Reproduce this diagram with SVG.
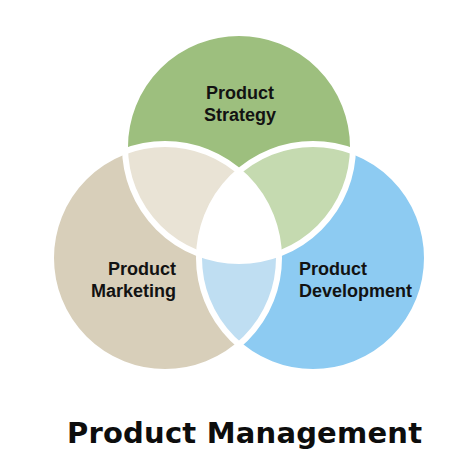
<svg xmlns="http://www.w3.org/2000/svg" width="474" height="474" viewBox="0 0 474 474">
<style>
.lbl{font-family:"Liberation Sans",Arial,sans-serif;font-weight:bold;font-size:18px;fill:#121212}
.title{font-family:"DejaVu Sans","Liberation Sans",sans-serif;font-weight:bold;font-size:29px;fill:#0d0d0d}
.edge{fill:none;stroke:#ffffff;stroke-width:6}
</style>
<defs>
<circle id="cT" cx="239" cy="147" r="114"/>
<circle id="cL" cx="165" cy="258" r="114"/>
<circle id="cR" cx="313" cy="258" r="114"/>
<clipPath id="clipL"><use href="#cL"/></clipPath>
<clipPath id="clipR"><use href="#cR"/></clipPath>
</defs>
<rect width="474" height="474" fill="#ffffff"/>
<g id="strategy">
<use href="#cT" fill="#9dbf7e"/>
</g>
<g id="marketing">
<use href="#cL" fill="#d8cfba"/>
</g>
<g id="development">
<use href="#cR" fill="#8dcbf2"/>
</g>
<g id="overlaps">
<use href="#cT" fill="#e9e3d5" clip-path="url(#clipL)"/>
<use href="#cT" fill="#c5dab0" clip-path="url(#clipR)"/>
<use href="#cL" fill="#bfdef2" clip-path="url(#clipR)"/>
<g clip-path="url(#clipL)"><use href="#cT" fill="#ffffff" clip-path="url(#clipR)"/></g>
</g>
<g id="connectors">
<use href="#cT" class="edge"/>
<use href="#cL" class="edge"/>
<use href="#cR" class="edge"/>
</g>
<g id="labels">
<text class="lbl" x="240" y="99" text-anchor="middle">Product</text>
<text class="lbl" x="240" y="121" text-anchor="middle">Strategy</text>
<text class="lbl" x="176" y="275" text-anchor="end">Product</text>
<text class="lbl" x="176" y="297" text-anchor="end">Marketing</text>
<text class="lbl" x="299" y="275">Product</text>
<text class="lbl" x="299" y="297">Development</text>
</g>
<text class="title" x="67" y="443" textLength="355" lengthAdjust="spacing">Product Management</text>
</svg>
